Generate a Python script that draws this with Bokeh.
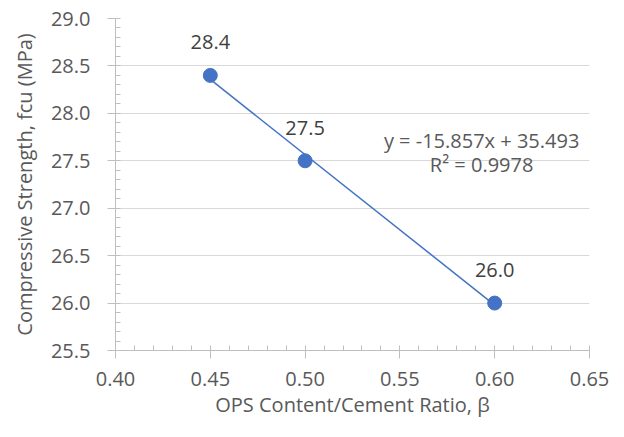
from bokeh.plotting import figure
from bokeh.models import ColumnDataSource, Range1d, SingleIntervalTicker, Label, NumeralTickFormatter
from bokeh.core.properties import value
from bokeh.embed import file_html
from bokeh.resources import INLINE

ratio = [0.45, 0.50, 0.60]
strength = [28.4, 27.5, 26.0]
labels = ["28.4", "27.5", "26.0"]
slope = -15.857
intercept = 35.493
r2 = 0.9978
trend_x = [0.45, 0.60]
trend_y = [slope * x + intercept for x in trend_x]

FONT = "Open Sans"
FS = "20px"
GRAY = "#595959"
AXC = "#bfbfbf"
BLUE = "#4472C4"

p = figure(width=616, height=429, output_backend="svg", toolbar_location=None,
           x_range=Range1d(0.40, 0.65), y_range=Range1d(25.5, 29.0),
           min_border_left=115, min_border_right=27, min_border_top=18, min_border_bottom=79)
p.outline_line_color = None
p.background_fill_color = "white"

p.xaxis.ticker = SingleIntervalTicker(interval=0.05, num_minor_ticks=5)
p.yaxis.ticker = SingleIntervalTicker(interval=0.5, num_minor_ticks=5)
p.xaxis.formatter = NumeralTickFormatter(format="0.00")
p.yaxis.formatter = NumeralTickFormatter(format="0.0")

for ax in (p.xaxis, p.yaxis):
    ax.axis_line_color = AXC
    ax.major_tick_line_color = AXC
    ax.minor_tick_line_color = AXC
    ax.major_tick_out = 8
    ax.major_tick_in = 4
    ax.minor_tick_out = 0
    ax.minor_tick_in = 5
    ax.major_label_text_font = FONT
    ax.major_label_text_font_size = FS
    ax.major_label_text_color = GRAY
    ax.axis_label_text_font = FONT
    ax.axis_label_text_font_size = FS
    ax.axis_label_text_font_style = "normal"
    ax.axis_label_text_color = GRAY

p.xaxis.axis_label = "OPS Content/Cement Ratio, \u03b2"
p.yaxis.axis_label = "Compressive Strength, fcu (MPa)"
p.xaxis.major_label_standoff = 13
p.yaxis.major_label_standoff = 17
p.xaxis.axis_label_standoff = 2
p.yaxis.axis_label_standoff = 10

p.xgrid.grid_line_color = None
p.ygrid.grid_line_color = "#d9d9d9"
p.ygrid.grid_line_width = 1

p.line(trend_x, trend_y, line_color=BLUE, line_width=1.5)
src = ColumnDataSource(dict(x=ratio, y=strength, t=labels))
p.scatter("x", "y", source=src, size=14, fill_color=BLUE, line_color=BLUE)
p.text("x", "y", text="t", source=src, text_align="center", text_baseline="middle",
       y_offset=-33, text_font=value(FONT), text_font_size=FS, text_color="#404040")

eq = "y = %.3fx + %.3f" % (slope, intercept)
p.add_layout(Label(x=0.5931, y=27.71, text=eq, text_align="center", text_baseline="middle",
                   text_font=FONT, text_font_size=FS, text_color=GRAY))
p.add_layout(Label(x=0.5931, y=27.46, text="R\u00b2 = %.4f" % r2, text_align="center",
                   text_baseline="middle", text_font=FONT, text_font_size=FS, text_color=GRAY))

open("out.html", "w").write(file_html(p, INLINE))
